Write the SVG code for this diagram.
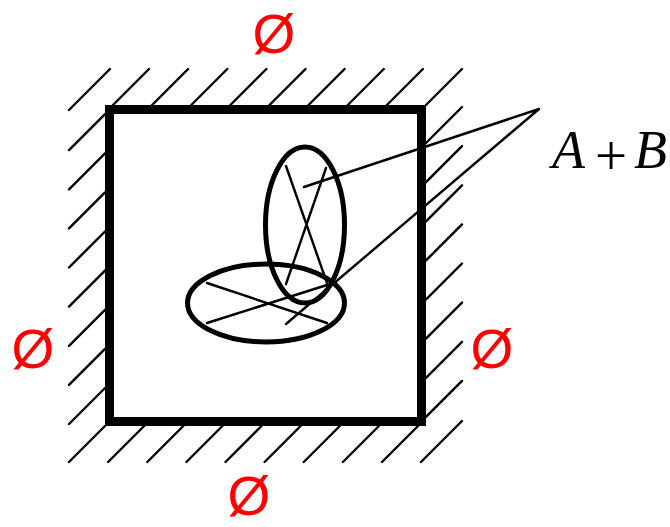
<svg xmlns="http://www.w3.org/2000/svg" width="670" height="527" viewBox="0 0 670 527">
<style>
.hatch{fill:none;stroke:#000;stroke-width:2.4;stroke-linecap:round}
.box{fill:none;stroke:#000;stroke-width:9;stroke-linejoin:miter}
.ell{fill:none;stroke:#000;stroke-width:5}
.thin{fill:none;stroke:#000;stroke-width:2.4;stroke-linecap:round}
.empty{font-family:"Liberation Sans",Arial,sans-serif;font-size:55px;fill:#ff0000;text-anchor:middle}
.lbl{font-family:"Liberation Serif","Times New Roman",serif;font-size:54px;fill:#000}
</style>
<rect width="670" height="527" fill="#fff"/>
<g id="wall">
<path class="hatch" d="M113 105l36 -36M152.1 105l36 -36M191.3 105l36 -36M230.4 105l36 -36M269.5 105l36 -36M308.6 105l36 -36M347.8 105l36 -36M386.9 105l36 -36M426 105l36 -36
M69 462l36 -36M108.1 462l36 -36M147.3 462l36 -36M186.4 462l36 -36M225.5 462l36 -36M264.6 462l36 -36M303.8 462l36 -36M342.9 462l36 -36M382 462l36 -36
M426 143l36 -36M426 182.1l36 -36M426 221.3l36 -36M426 260.4l36 -36M426 299.5l36 -36M426 338.6l36 -36M426 377.8l36 -36M426 416.9l36 -36
M69 424l36 -36M69 384.9l36 -36M69 345.8l36 -36M69 306.6l36 -36M69 267.5l36 -36M69 228.4l36 -36M69 189.3l36 -36M69 150.1l36 -36
M69 110l41 -41M421 462l41 -41"/>
<rect class="box" x="109.5" y="109.5" width="312" height="312"/>
</g>
<g id="ellipseB">
<ellipse class="ell" cx="266" cy="303" rx="78.5" ry="39"/>
<path class="thin" d="M207 283L327 323M207 323L327 285"/>
</g>
<g id="ellipseA">
<ellipse class="ell" cx="305" cy="225" rx="39.5" ry="78"/>
<path class="thin" d="M286 166L327 283M326 168L286 284"/>
</g>
<g id="connectors">
<path class="thin" d="M539 109L304 187M539 109L286 324"/>
</g>
<g id="label">
<text class="lbl" y="168"><tspan x="552" font-style="italic">A</tspan><tspan x="595" y="175" font-size="57">+</tspan><tspan x="634" y="168" font-style="italic">B</tspan></text>
</g>
<g id="empty-top"><text class="empty" x="274" y="53">Ø</text></g>
<g id="empty-left"><text class="empty" x="33" y="368">Ø</text></g>
<g id="empty-right"><text class="empty" x="492" y="368">Ø</text></g>
<g id="empty-bottom"><text class="empty" x="249" y="515">Ø</text></g>
</svg>
